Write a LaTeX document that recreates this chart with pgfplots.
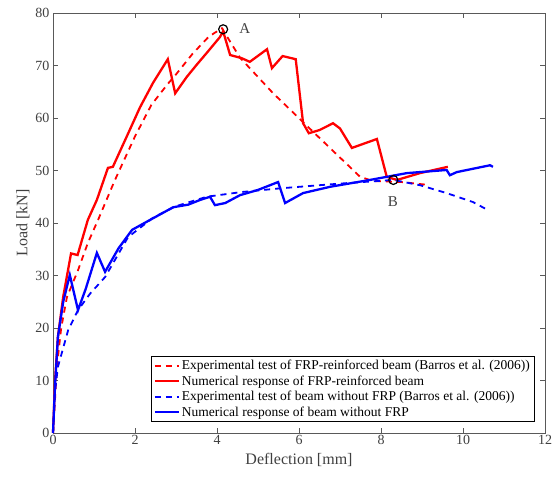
\documentclass[border=0pt]{standalone}
\usepackage{fontspec}
\setmainfont{Liberation Serif}
\usepackage{pgfplots}
\pgfplotsset{compat=1.18}
\definecolor{axgray}{gray}{0.35}
\definecolor{lblgray}{gray}{0.25}
\begin{document}
\begin{tikzpicture}
\useasboundingbox (-53bp,-46bp) rectangle (506bp,433bp);
\begin{axis}[
  scale only axis, width=492bp, height=420bp,
  xmin=0, xmax=12, ymin=0, ymax=80,
  xtick={0,2,...,12}, ytick={0,10,...,80},
  tick align=inside, tick pos=both,
  major tick length=5bp,
  axis line style={axgray, line width=0.6bp},
  every tick/.style={axgray, line width=0.6bp},
  /pgf/number format/assume math mode=true,
  tick label style={font=\fontsize{14bp}{16bp}\selectfont, text=lblgray},
  xticklabel style={yshift=1bp},
  xlabel={Deflection [mm]}, ylabel={Load [kN]},
  label style={font=\fontsize{16bp}{18bp}\selectfont, text=lblgray},
  xlabel style={yshift=-1bp},
  ylabel style={yshift=-1bp},
  legend style={at={(0.978,0.026)}, anchor=south east, draw=black, line width=0.6bp,
    font=\fontsize{13.5bp}{15bp}\selectfont, inner sep=2bp, row sep=0.5bp, cells={anchor=west}},
  legend cell align=left,
  legend image code/.code={\draw[#1] (0bp,0bp) -- (24bp,0bp);},
  clip=false,
]
\addplot[red, line width=1.8bp, dash pattern=on 6bp off 5bp] coordinates {
(0,0)(0.1,13)(0.2,20)(0.34,25.9)(0.61,31)(0.85,36.2)(1.1,40.6)(1.5,48)(2.0,56.5)(2.4,62.5)(2.8,66.5)(3.0,68.3)(3.4,72.2)(3.8,75.5)(4.12,77.1)(4.56,71.5)(5.37,64.7)(6.5,56.2)(7.49,48.8)(7.8,48.0)(8.5,47.8)(9.1,47.3)
};
\addlegendentry{Experimental test of FRP-reinforced beam (Barros et al. (2006))}
\addplot[red, line width=2.3bp] coordinates {
(0,0)(0.05,10)(0.12,18.3)(0.25,26)(0.44,34.2)(0.6,33.9)(0.85,40.6)(1.07,44.4)(1.34,50.5)(1.46,50.7)(1.8,56.5)(2.12,62)(2.44,66.7)(2.8,71.2)(2.98,64.7)(3.26,67.8)(3.5,70.1)(3.75,72.4)(4.07,75.4)(4.15,76.5)(4.32,72)(4.6,71.4)(4.8,70.7)(5.22,73.1)(5.34,69.5)(5.6,71.8)(5.92,71.2)(6.1,59)(6.24,57.1)(6.5,57.7)(6.83,59)(7.0,58)(7.29,54.3)(7.9,56)(8.14,48.8)(8.39,48.2)(8.95,49.5)(9.63,50.7)
};
\addlegendentry{Numerical response of FRP-reinforced beam}
\addplot[blue, line width=1.8bp, dash pattern=on 6bp off 5bp] coordinates {
(0,0)(0.05,8)(0.12,12.6)(0.37,19.6)(0.61,23.4)(0.9,26.5)(1.27,29.7)(1.55,33.5)(1.83,37.3)(2.44,41)(3.0,43.2)(3.75,45)(4.6,45.9)(5.54,46.6)(6.5,47.2)(7.17,47.6)(8.3,48.2)(8.95,47.2)(9.6,45.7)(10.24,44)(10.6,42.5)
};
\addlegendentry{Experimental test of beam without FRP (Barros et al. (2006))}
\addplot[blue, line width=2.3bp] coordinates {
(0,0)(0.05,9)(0.12,18.3)(0.25,25)(0.41,30.1)(0.61,23.4)(0.8,27.5)(1.07,34.3)(1.27,30.7)(1.6,35.2)(1.93,38.7)(2.37,40.6)(2.93,43)(3.3,43.5)(3.59,44.4)(3.83,45)(3.95,43.4)(4.2,43.8)(4.56,45.3)(5.0,46.3)(5.49,47.8)(5.66,43.8)(6.1,45.7)(6.76,46.9)(7.73,48.2)(8.63,49.5)(9.6,50.1)(9.68,49.1)(9.85,49.7)(10.66,51)(10.73,50.7)
};
\addlegendentry{Numerical response of beam without FRP}
\addplot[black, only marks, mark=o, mark size=4.5bp, mark options={line width=1.2bp}, forget plot] coordinates {(4.15,76.9)(8.3,48.2)};
\node[font=\fontsize{15bp}{17bp}\selectfont, text=lblgray] at (axis cs:4.68,77) {A};
\node[font=\fontsize{15bp}{17bp}\selectfont, text=lblgray] at (axis cs:8.29,44) {B};
\end{axis}
\end{tikzpicture}
\end{document}
